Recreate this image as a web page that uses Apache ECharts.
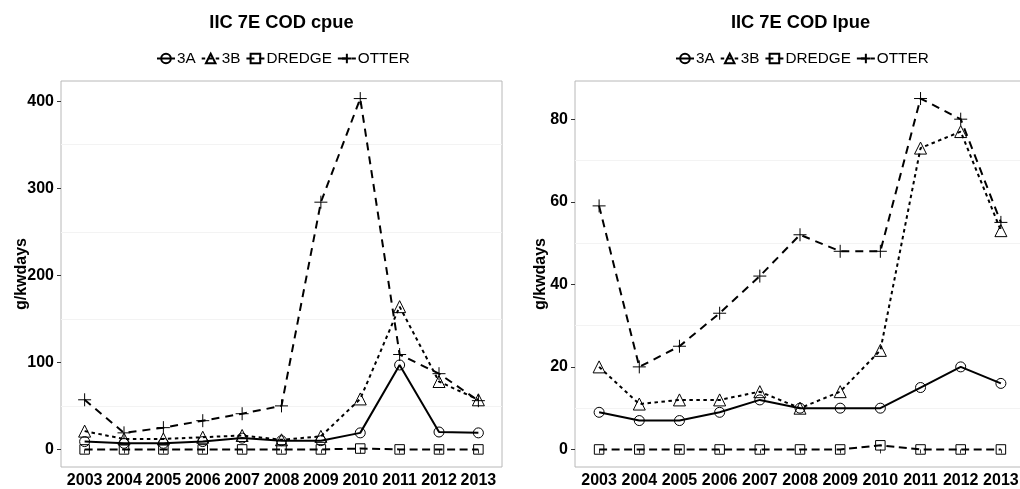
<!DOCTYPE html>
<html>
<head>
<meta charset="utf-8">
<script src="https://cdn.jsdelivr.net/npm/echarts@6/dist/echarts.min.js"></script>
<style>
html,body{margin:0;padding:0;background:#fff;}
#chart{width:1020px;height:489px;}
</style>
</head>
<body>
<div id="chart"></div>
<script>
// ---- data ----
const years = [2003, 2004, 2005, 2006, 2007, 2008, 2009, 2010, 2011, 2012, 2013];
const seriesNames = ['3A', '3B', 'DREDGE', 'OTTER'];

// cpue panel (left)
const cpue3A     = [9, 7, 7, 9, 13, 10, 10, 19, 97, 20, 19];
const cpue3B     = [21, 12, 12, 14, 16, 11, 15, 58, 164, 78, 57];
const cpueDREDGE = [0, 0, 0, 0, 0, 0, 0, 1, 0, 0, 0];
const cpueOTTER  = [57, 19, 25, 33, 41, 50, 284, 403, 109, 87, 56];

// lpue panel (right)
const lpue3A     = [9, 7, 7, 9, 12, 10, 10, 10, 15, 20, 16];
const lpue3B     = [20, 11, 12, 12, 14, 10, 14, 24, 73, 77, 53];
const lpueDREDGE = [0, 0, 0, 0, 0, 0, 0, 1, 0, 0, 0];
const lpueOTTER  = [59, 20, 25, 33, 42, 52, 48, 48, 85, 80, 55];

const cpueTicks = [0, 100, 200, 300, 400];
const cpueMinor = [50, 150, 250, 350];
const lpueTicks = [0, 20, 40, 60, 80];
const lpueMinor = [10, 30, 50, 70];

const titles = ['IIC 7E COD cpue', 'IIC 7E COD lpue'];
const yName = 'g/kwdays';

// ---- styles ----
const FONT = '"Liberation Sans", Arial, sans-serif';
const styleBy = {
  '3A':     {symbol: 'circle', size: 10, dash: 'solid'},
  '3B':     {symbol: 'triangle', size: 12, dash: [3.5, 3.5]},
  'DREDGE': {symbol: 'rect', size: 9.5, dash: [8, 4.5]},
  'OTTER':  {symbol: 'path://M5,0 L5,10 M0,5 L10,5', size: 13, dash: [8, 6]}
};

function pairs(vals) { return years.map((y, i) => [y, vals[i]]); }

function makeSeries(name, vals, idx, minor) {
  const st = styleBy[name];
  const s = {
    name: name,
    type: 'line',
    xAxisIndex: idx,
    yAxisIndex: idx,
    data: pairs(vals),
    symbol: st.symbol,
    symbolSize: st.size,
    showAllSymbol: true,
    lineStyle: {color: '#000', width: 2, type: st.dash},
    itemStyle: {color: 'rgba(0,0,0,0)', borderColor: '#000', borderWidth: 1},
    emphasis: {disabled: true},
    animation: false,
    z: 3
  };
  if (minor) {
    s.markLine = {
      silent: true,
      symbol: ['none', 'none'],
      z: 1,
      label: {show: false},
      lineStyle: {color: '#f3f3f3', width: 1, type: 'solid'},
      data: minor.map(v => ({yAxis: v}))
    };
  }
  return s;
}

const grids = [
  {left: 61, top: 81, width: 441, height: 386},
  {left: 575, top: 81, width: 450, height: 386}
];
const titleCenters = [281, 800];
const legendLefts = [151, 670];

const yRanges = [[-20.2, 423.2], [-4.25, 89.25]];
const yTickSets = [cpueTicks, lpueTicks];
const nameGaps = [31, 26];

const option = {
  backgroundColor: '#fff',
  animation: false,
  textStyle: {fontFamily: FONT},
  title: grids.map((g, i) => ({
    text: titles[i],
    left: titleCenters[i] - 4.5,
    top: 9,
    textAlign: 'center',
    textStyle: {fontFamily: FONT, fontSize: 18.3, fontWeight: 'bold', color: '#000'}
  })),
  legend: grids.map((g, i) => ({
    data: seriesNames,
    left: legendLefts[i],
    top: 46,
    itemWidth: 18,
    itemHeight: 12,
    itemGap: 5,
    selectedMode: false,
    textStyle: {fontFamily: FONT, fontSize: 15.3, color: '#000', padding: [0, 0, 0, -3]}
  })),
  grid: grids.map(g => Object.assign({show: true, borderColor: '#b8b8b8', borderWidth: 1, backgroundColor: '#fff', outerBoundsMode: 'none'}, g)),
  xAxis: grids.map((g, i) => ({
    type: 'value',
    gridIndex: i,
    min: 2002.4,
    max: 2013.6,
    axisLine: {show: false},
    splitLine: {show: false},
    axisTick: {show: true, length: 4, lineStyle: {color: '#333'}, customValues: years},
    axisLabel: {
      customValues: years,
      formatter: v => String(v),
      fontFamily: FONT, fontSize: 16, fontWeight: 'bold', color: '#000', margin: 6
    }
  })),
  yAxis: grids.map((g, i) => ({
    type: 'value',
    gridIndex: i,
    min: yRanges[i][0],
    max: yRanges[i][1],
    name: yName,
    nameLocation: 'middle',
    nameGap: nameGaps[i],
    nameMoveOverlap: false,
    nameRotate: 90,
    nameTextStyle: {fontFamily: FONT, fontSize: 16, fontWeight: 'bold', color: '#000'},
    axisLine: {show: false},
    splitLine: {show: false},
    axisTick: {show: true, length: 4, lineStyle: {color: '#333'}, customValues: yTickSets[i]},
    axisLabel: {
      customValues: yTickSets[i],
      formatter: v => String(v),
      fontFamily: FONT, fontSize: 16, fontWeight: 'bold', color: '#000', margin: 7
    }
  })),
  series: [
    makeSeries('DREDGE', cpueDREDGE, 0, cpueMinor),
    makeSeries('3A', cpue3A, 0),
    makeSeries('3B', cpue3B, 0),
    makeSeries('OTTER', cpueOTTER, 0),
    makeSeries('DREDGE', lpueDREDGE, 1, lpueMinor),
    makeSeries('3A', lpue3A, 1),
    makeSeries('3B', lpue3B, 1),
    makeSeries('OTTER', lpueOTTER, 1)
  ]
};

const chart = echarts.init(document.getElementById('chart'), null, {renderer: 'canvas'});
chart.setOption(option);
</script>
</body>
</html>
